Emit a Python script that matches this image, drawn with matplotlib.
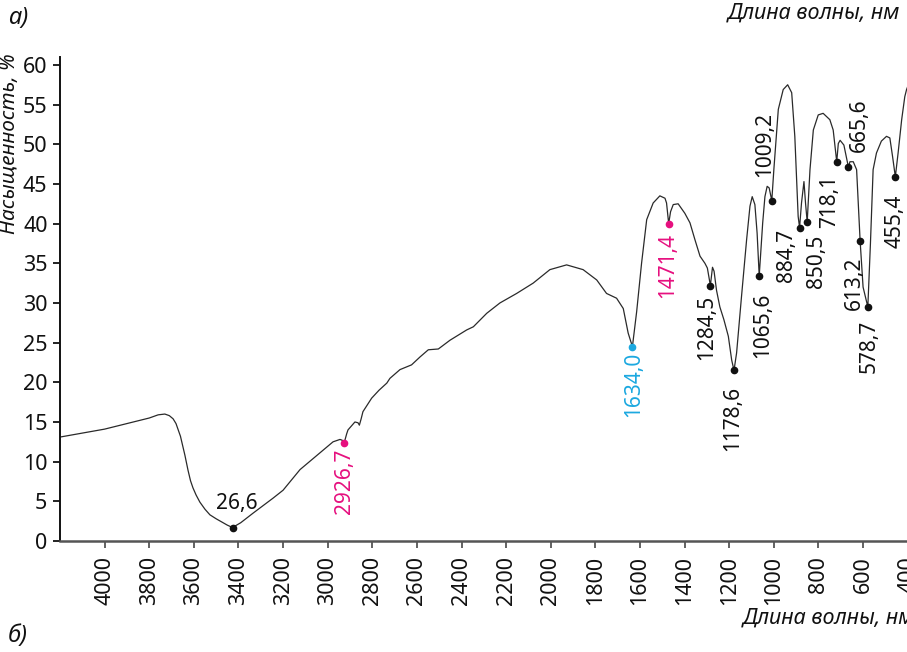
import matplotlib
matplotlib.use("Agg")
import matplotlib.pyplot as plt

plt.rcParams['font.family'] = ['Noto Sans', 'DejaVu Sans']

# IR transmission spectrum (wavenumber, saturation %)
wavenumber = [4200, 4100, 4000, 3900, 3800, 3760, 3730, 3710, 3693, 3680, 3660,
              3640, 3626, 3615, 3604, 3590, 3573, 3550, 3528, 3500, 3469, 3450,
              3426.6, 3390, 3335, 3245, 3200, 3124,
              3048, 2976, 2945, 2935, 2926.7, 2915, 2909, 2878, 2864, 2858, 2850,
              2842, 2803, 2770, 2735, 2721, 2676, 2624, 2586, 2549, 2504, 2452,
              2377, 2347, 2287, 2228, 2153, 2079, 2004, 1929, 1855, 1794, 1750,
              1705, 1675, 1653, 1634.0, 1615, 1593, 1570, 1541, 1511, 1488, 1481,
              1471.4, 1463, 1451, 1429, 1399, 1376, 1354, 1331, 1309, 1298,
              1284.5, 1275, 1268, 1257, 1242, 1224, 1204, 1189, 1178.6, 1167,
              1145, 1122, 1107, 1097, 1085, 1075, 1065.6, 1050, 1040, 1030, 1021,
              1009.2, 1000, 980, 958, 938, 920, 906, 898, 891, 884.7, 876, 865,
              858, 850.5, 838, 823, 801, 779, 749, 734, 718.1, 711, 703, 686,
              665.6, 659, 644, 629, 613.2, 600, 578.7, 567, 555, 540, 518, 495,
              480, 468, 455.4, 443, 427, 413, 405, 390]
saturation = [13.1, 13.6, 14.1, 14.8, 15.5, 15.9, 16.0, 15.8, 15.4, 14.8, 13.2,
              10.8, 8.9, 7.6, 6.7, 5.8, 4.9, 4.0, 3.3, 2.8, 2.3, 2.0,
              1.7, 2.3, 3.5, 5.4, 6.4, 9.0,
              10.8, 12.5, 12.8, 12.7, 12.3, 13.5, 14.0, 15.0, 14.9, 14.6, 15.4,
              16.3, 18.0, 19.0, 19.9, 20.5, 21.6, 22.2, 23.2, 24.1, 24.2, 25.3,
              26.6, 27.0, 28.7, 30.0, 31.2, 32.5, 34.2, 34.8, 34.2, 32.9, 31.2,
              30.6, 29.3, 26.2, 24.5, 28.9, 35.0, 40.5, 42.6, 43.5, 43.2, 42.6,
              40.0, 41.5, 42.4, 42.5, 41.3, 40.1, 38.0, 35.9, 35.0, 34.4,
              32.2, 34.5, 34.0, 31.6, 29.5, 27.9, 25.8, 22.8, 21.5, 23.7,
              30.8, 38.0, 42.2, 43.4, 42.4, 38.8, 33.4, 40.1, 43.4, 44.7, 44.5,
              42.9, 46.8, 54.4, 56.9, 57.5, 56.5, 51.0, 45.5, 40.9, 39.5, 42.6, 45.3,
              42.6, 40.2, 46.8, 51.8, 53.7, 53.9, 53.1, 51.8, 47.8, 50.1, 50.5, 49.9,
              47.1, 47.8, 47.8, 46.8, 37.8, 32.0, 29.5, 37.5, 46.8, 48.9, 50.4, 51.0,
              50.8, 48.5, 45.9, 48.9, 53.1, 56.0, 56.9, 58.0]

# Marked bands
peak_wn = [3426.6, 2926.7, 1634.0, 1471.4, 1284.5, 1178.6, 1065.6, 1009.2,
           884.7, 850.5, 718.1, 665.6, 613.2, 578.7, 455.4]
peak_val = [1.7, 12.3, 24.5, 40.0, 32.2, 21.5, 33.4, 42.9,
            39.5, 40.2, 47.8, 47.1, 37.8, 29.5, 45.9]
peak_labels = ["26,6", "2926,7", "1634,0", "1471,4", "1284,5", "1178,6", "1065,6",
               "1009,2", "884,7", "850,5", "718,1", "665,6", "613,2", "578,7", "455,4"]

x_ticks = list(range(4000, 399, -200))
y_ticks = list(range(0, 61, 5))

BLACK = "#111111"
PINK = "#e6107f"
CYAN = "#1ba8e0"
peak_colors = [BLACK, PINK, CYAN, PINK, BLACK, BLACK, BLACK, BLACK,
               BLACK, BLACK, BLACK, BLACK, BLACK, BLACK, BLACK]
# label offset (pixels), vertical alignment, rotation
label_style = [((4, 14), "bottom", 0), ((0, -5), "top", 90), ((1, -5), "top", 90),
               ((-1, -9), "top", 90), ((-4, -9), "top", 90), ((-1, -15), "top", 90),
               ((3, -17), "top", 90), ((-7, 24), "bottom", 90), ((-13, -1), "top", 90),
               ((9, -13), "top", 90), ((-7, -13), "top", 90), ((11, 15), "bottom", 90),
               ((-6, -15), "top", 90), ((1, -13), "top", 90), ((0, -18), "top", 90)]

W, H = 907, 652
fig = plt.figure(figsize=(W / 100, H / 100), dpi=100)
ax = fig.add_axes([60 / W, 111 / H, 870 / W, 484 / H])

ax.plot(wavenumber, saturation, color="#2a2a2a", lw=0.9, solid_joinstyle="round")
for wn, v, lab, c, (off, va, rot) in zip(peak_wn, peak_val, peak_labels,
                                        peak_colors, label_style):
    ax.plot([wn], [v], "o", color=c, ms=4.5, zorder=3)
    ax.annotate(lab, (wn, v), xytext=off, textcoords="offset pixels",
                rotation=rot, ha="center", va=va, color=c, fontsize=15)

ax.set_xlim(4200, 300)
ax.set_ylim(0, 61)
ax.set_xticks(x_ticks)
ax.set_xticklabels([str(t) for t in x_ticks], rotation=90)
ax.set_yticks(y_ticks)
ax.tick_params(axis="both", labelsize=15.5, length=5, width=1.3, colors="#111111")
ax.tick_params(axis="x", pad=6, color="#555555")
ax.tick_params(axis="y", pad=4)
for s in ["top", "right"]:
    ax.spines[s].set_visible(False)
ax.spines["left"].set_linewidth(1.4)
ax.spines["left"].set_color("#111111")
ax.spines["bottom"].set_linewidth(1.8)
ax.spines["bottom"].set_color("#555555")

fig.text(10 / W, 1 - 53 / H, "Насыщенность, %", rotation=90, ha="center", va="top",
         fontsize=15, style="italic", color="#111111")
fig.text(900 / W, 1 - 13 / H, "Длина волны, нм", ha="right", va="center",
         fontsize=15.5, style="italic", color="#111111")
fig.text(743 / W, 1 - 618 / H, "Длина волны, нм", ha="left", va="center",
         fontsize=15.5, style="italic", color="#111111")
fig.text(8 / W, 1 - 18 / H, "а)", ha="left", va="center",
         fontsize=17, style="italic", color="#111111")
fig.text(8 / W, 1 - 636 / H, "б)", ha="left", va="center",
         fontsize=17, style="italic", color="#111111")

fig.savefig("out.png", dpi=100)
